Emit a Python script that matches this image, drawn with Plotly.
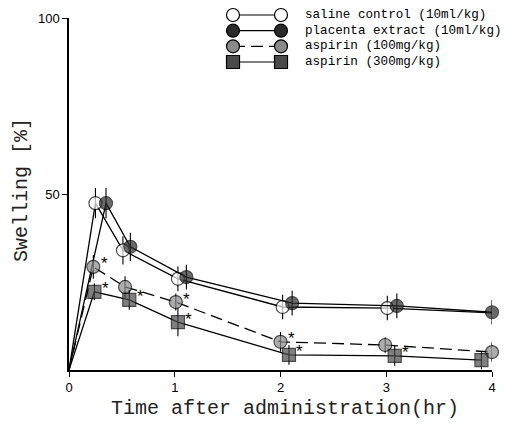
import plotly.graph_objects as go

# Time points (hr) as plotted for each group (groups are slightly staggered)
t_saline   = [0, 0.25, 0.51, 1.03, 2.02, 3.01, 4.01]
t_placenta = [0, 0.35, 0.58, 1.11, 2.11, 3.10, 4.00]
t_asp100   = [0, 0.23, 0.53, 1.01, 2.00, 2.99, 4.00]
t_asp300   = [0, 0.24, 0.57, 1.03, 2.08, 3.08, 3.90]

# Swelling (%) and error (+/-)
y_saline   = [0, 47.4, 34.0, 25.9, 17.9, 17.6, 16.2]
e_saline   = [0, 4.3, 4.0, 3.5, 3.5, 3.5, 3.5]
y_placenta = [0, 47.4, 35.0, 26.4, 19.0, 18.2, 16.4]
e_placenta = [0, 4.3, 4.0, 3.5, 3.5, 3.5, 3.5]
y_asp100   = [0, 29.3, 23.6, 19.3, 8.0, 7.1, 5.1]
e_asp100   = [0, 3.4, 3.0, 2.4, 2.8, 2.2, 2.8]
y_asp300   = [0, 22.2, 19.9, 13.6, 4.3, 4.0, 2.8]
e_asp300   = [0, 2.4, 2.8, 4.0, 2.8, 2.8, 2.6]

# Significance markers (*) per point
sig_asp100 = [False, True, False, True, True, False, False]
sig_asp300 = [False, True, True, True, True, True, False]

labels = ["saline control (10ml/kg)", "placenta extract (10ml/kg)",
          "aspirin (100mg/kg)", "aspirin (300mg/kg)"]

x_ticks = [0, 1, 2, 3, 4]
y_ticks = [50, 100]

styles = [
    dict(symbol="circle", fill="white", dash="solid"),
    dict(symbol="circle", fill="#2a2a2a", dash="solid"),
    dict(symbol="circle", fill="#8a8a8a", dash="12px,6px"),
    dict(symbol="square", fill="#4a4a4a", dash="solid"),
]

series = [
    (t_saline, y_saline, e_saline),
    (t_placenta, y_placenta, e_placenta),
    (t_asp100, y_asp100, e_asp100),
    (t_asp300, y_asp300, e_asp300),
]

# Page geometry (px)
W, H = 505, 429
M_L, M_R, M_T, M_B = 69, 13, 8, 59
PW, PH = W - M_L - M_R, H - M_T - M_B
AXIS_TOP = 18          # pixel row of the 100% tick

fig = go.Figure()
MS = 13
for (tx, ty, te), st, name in zip(series, styles, labels):
    sizes = [0] + [MS] * (len(tx) - 1)
    fig.add_trace(go.Scatter(
        x=tx, y=ty, mode="lines+markers", name=name, showlegend=False,
        line=dict(color="black", width=1.3, dash=st["dash"]),
        marker=dict(symbol=st["symbol"], size=sizes, color=st["fill"],
                    line=dict(color="black", width=1.2)),
        error_y=dict(type="data", array=te, visible=True, width=0,
                     thickness=1.1, color="black"),
        cliponaxis=False,
    ))

# Asterisks for significant differences
for tx, ty, flags in [(t_asp100, y_asp100, sig_asp100), (t_asp300, y_asp300, sig_asp300)]:
    for xv, yv, f in zip(tx, ty, flags):
        if f:
            fig.add_annotation(x=xv, y=yv, text="*", showarrow=False,
                               xshift=11, yshift=3,
                               font=dict(family="Liberation Sans", size=17, color="black"))

# Legend drawn on its own small axis pair: two markers joined by a line per row
rows = [3, 2, 1, 0]
for row, st, name in zip(rows, styles, labels):
    fig.add_trace(go.Scatter(
        x=[0, 1], y=[row, row], xaxis="x2", yaxis="y2", mode="lines+markers",
        showlegend=False, cliponaxis=False, hoverinfo="skip",
        line=dict(color="black", width=1.2, dash=st["dash"]),
        marker=dict(symbol=st["symbol"], size=MS, color=st["fill"],
                    line=dict(color="black", width=1.2)),
    ))
    fig.add_annotation(x=1.45, y=row, xref="x2", yref="y2", text=name,
                       showarrow=False, xanchor="left", yanchor="middle",
                       font=dict(family="Liberation Mono", size=12.6, color="black"))

# Axis titles
fig.add_annotation(x=(285 - M_L) / PW, y=(H - M_B - 408) / PH, xref="paper", yref="paper",
                   xanchor="center", yanchor="middle",
                   text="Time after administration(hr)", showarrow=False,
                   font=dict(family="Liberation Mono", size=20, color="#222"))
fig.add_annotation(x=(22 - M_L) / PW, y=(H - M_B - 190) / PH, xref="paper", yref="paper",
                   xanchor="center", yanchor="middle",
                   text="Swelling [%]", showarrow=False, textangle=-90,
                   font=dict(family="Liberation Mono", size=20, color="#222"))

axis_common = dict(showgrid=False, zeroline=False, showline=True, linecolor="black",
                   linewidth=1.5, ticks="outside", ticklen=5, tickwidth=1.2,
                   tickcolor="black", automargin=False,
                   tickfont=dict(family="Liberation Sans", size=13, color="black"))

# Legend axis: one x unit = 48 px between the two sample markers; rows 15.67 px apart
lx0, lpx = 233, 48
ly_top_row, lpy = 15, 15.67
leg_left = 225
leg_bottom_frac = 0.75
leg_bottom_px = H - M_B - leg_bottom_frac * PH
fig.update_layout(
    width=W, height=H,
    margin=dict(l=M_L, r=M_R, t=M_T, b=M_B, autoexpand=False),
    plot_bgcolor="white", paper_bgcolor="white",
    xaxis=dict(range=[0, 4], tickvals=x_ticks, **axis_common),
    yaxis=dict(range=[0, 100], tickvals=y_ticks,
               domain=[0, (H - M_B - AXIS_TOP) / PH], **axis_common),
    xaxis2=dict(domain=[(leg_left - M_L) / PW, 1],
                range=[(leg_left - lx0) / lpx, (M_L + PW - lx0) / lpx],
                anchor="y2", visible=False, automargin=False),
    yaxis2=dict(domain=[leg_bottom_frac, 1],
                range=[3 - (leg_bottom_px - ly_top_row) / lpy,
                       3 + (ly_top_row - M_T) / lpy],
                anchor="x2", visible=False, automargin=False),
)

fig.write_html("out.html")
